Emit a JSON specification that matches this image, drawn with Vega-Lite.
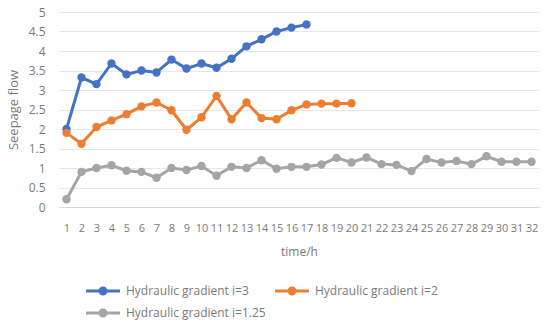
{
  "$schema": "https://vega.github.io/schema/vega-lite/v6.json",
  "width": 480,
  "height": 195,
  "padding": {"left": 7, "top": 6, "right": 5, "bottom": 4},
  "background": "white",
  "config": {
    "view": {"stroke": null},
    "font": "Open Sans"
  },
  "data": {
    "values": [
      {"s": "Hydraulic gradient i=3", "t": 1, "v": 2.0},
      {"s": "Hydraulic gradient i=3", "t": 2, "v": 3.32},
      {"s": "Hydraulic gradient i=3", "t": 3, "v": 3.15},
      {"s": "Hydraulic gradient i=3", "t": 4, "v": 3.68},
      {"s": "Hydraulic gradient i=3", "t": 5, "v": 3.4},
      {"s": "Hydraulic gradient i=3", "t": 6, "v": 3.5},
      {"s": "Hydraulic gradient i=3", "t": 7, "v": 3.45},
      {"s": "Hydraulic gradient i=3", "t": 8, "v": 3.78},
      {"s": "Hydraulic gradient i=3", "t": 9, "v": 3.55},
      {"s": "Hydraulic gradient i=3", "t": 10, "v": 3.68},
      {"s": "Hydraulic gradient i=3", "t": 11, "v": 3.57},
      {"s": "Hydraulic gradient i=3", "t": 12, "v": 3.8},
      {"s": "Hydraulic gradient i=3", "t": 13, "v": 4.12},
      {"s": "Hydraulic gradient i=3", "t": 14, "v": 4.3},
      {"s": "Hydraulic gradient i=3", "t": 15, "v": 4.5},
      {"s": "Hydraulic gradient i=3", "t": 16, "v": 4.6},
      {"s": "Hydraulic gradient i=3", "t": 17, "v": 4.68},
      {"s": "Hydraulic gradient i=2", "t": 1, "v": 1.9},
      {"s": "Hydraulic gradient i=2", "t": 2, "v": 1.62},
      {"s": "Hydraulic gradient i=2", "t": 3, "v": 2.05},
      {"s": "Hydraulic gradient i=2", "t": 4, "v": 2.22},
      {"s": "Hydraulic gradient i=2", "t": 5, "v": 2.38},
      {"s": "Hydraulic gradient i=2", "t": 6, "v": 2.58},
      {"s": "Hydraulic gradient i=2", "t": 7, "v": 2.68},
      {"s": "Hydraulic gradient i=2", "t": 8, "v": 2.48},
      {"s": "Hydraulic gradient i=2", "t": 9, "v": 1.98},
      {"s": "Hydraulic gradient i=2", "t": 10, "v": 2.3},
      {"s": "Hydraulic gradient i=2", "t": 11, "v": 2.85},
      {"s": "Hydraulic gradient i=2", "t": 12, "v": 2.25},
      {"s": "Hydraulic gradient i=2", "t": 13, "v": 2.68},
      {"s": "Hydraulic gradient i=2", "t": 14, "v": 2.28},
      {"s": "Hydraulic gradient i=2", "t": 15, "v": 2.25},
      {"s": "Hydraulic gradient i=2", "t": 16, "v": 2.48},
      {"s": "Hydraulic gradient i=2", "t": 17, "v": 2.63},
      {"s": "Hydraulic gradient i=2", "t": 18, "v": 2.65},
      {"s": "Hydraulic gradient i=2", "t": 19, "v": 2.65},
      {"s": "Hydraulic gradient i=2", "t": 20, "v": 2.66},
      {"s": "Hydraulic gradient i=1.25", "t": 1, "v": 0.2},
      {"s": "Hydraulic gradient i=1.25", "t": 2, "v": 0.9},
      {"s": "Hydraulic gradient i=1.25", "t": 3, "v": 1.0},
      {"s": "Hydraulic gradient i=1.25", "t": 4, "v": 1.07},
      {"s": "Hydraulic gradient i=1.25", "t": 5, "v": 0.93},
      {"s": "Hydraulic gradient i=1.25", "t": 6, "v": 0.9},
      {"s": "Hydraulic gradient i=1.25", "t": 7, "v": 0.75},
      {"s": "Hydraulic gradient i=1.25", "t": 8, "v": 1.0},
      {"s": "Hydraulic gradient i=1.25", "t": 9, "v": 0.95},
      {"s": "Hydraulic gradient i=1.25", "t": 10, "v": 1.05},
      {"s": "Hydraulic gradient i=1.25", "t": 11, "v": 0.8},
      {"s": "Hydraulic gradient i=1.25", "t": 12, "v": 1.03},
      {"s": "Hydraulic gradient i=1.25", "t": 13, "v": 1.0},
      {"s": "Hydraulic gradient i=1.25", "t": 14, "v": 1.2},
      {"s": "Hydraulic gradient i=1.25", "t": 15, "v": 0.98},
      {"s": "Hydraulic gradient i=1.25", "t": 16, "v": 1.03},
      {"s": "Hydraulic gradient i=1.25", "t": 17, "v": 1.03},
      {"s": "Hydraulic gradient i=1.25", "t": 18, "v": 1.09},
      {"s": "Hydraulic gradient i=1.25", "t": 19, "v": 1.26},
      {"s": "Hydraulic gradient i=1.25", "t": 20, "v": 1.14},
      {"s": "Hydraulic gradient i=1.25", "t": 21, "v": 1.27},
      {"s": "Hydraulic gradient i=1.25", "t": 22, "v": 1.1},
      {"s": "Hydraulic gradient i=1.25", "t": 23, "v": 1.08},
      {"s": "Hydraulic gradient i=1.25", "t": 24, "v": 0.92},
      {"s": "Hydraulic gradient i=1.25", "t": 25, "v": 1.23},
      {"s": "Hydraulic gradient i=1.25", "t": 26, "v": 1.14},
      {"s": "Hydraulic gradient i=1.25", "t": 27, "v": 1.18},
      {"s": "Hydraulic gradient i=1.25", "t": 28, "v": 1.1},
      {"s": "Hydraulic gradient i=1.25", "t": 29, "v": 1.3},
      {"s": "Hydraulic gradient i=1.25", "t": 30, "v": 1.16},
      {"s": "Hydraulic gradient i=1.25", "t": 31, "v": 1.16},
      {"s": "Hydraulic gradient i=1.25", "t": 32, "v": 1.16}
    ]
  },
  "encoding": {
    "x": {
      "field": "t",
      "type": "ordinal",
      "scale": {"domain": [1,2,3,4,5,6,7,8,9,10,11,12,13,14,15,16,17,18,19,20,21,22,23,24,25,26,27,28,29,30,31,32]},
      "axis": {
        "title": "time/h",
        "titleFontSize": 12,
        "titleFontWeight": "normal",
        "titleColor": "#7a7a7a",
        "titlePadding": 13,
        "labelAngle": 0,
        "labelFontSize": 11,
        "labelColor": "#7a7a7a",
        "labelOverlap": false,
        "labelPadding": 15,
        "ticks": false,
        "domainColor": "#d9d9d9",
        "grid": false
      }
    },
    "y": {
      "field": "v",
      "type": "quantitative",
      "scale": {"domain": [0, 5], "nice": false},
      "axis": {
        "title": "Seepage flow",
        "titleFontSize": 13,
        "titleFontWeight": "normal",
        "titleColor": "#7a7a7a",
        "titlePadding": 8,
        "values": [0, 0.5, 1, 1.5, 2, 2.5, 3, 3.5, 4, 4.5, 5],
        "format": "~g",
        "labelFontSize": 12,
        "labelColor": "#7a7a7a",
        "labelPadding": 14,
        "ticks": false,
        "domain": false,
        "gridColor": "#e6e6e6"
      }
    },
    "color": {
      "field": "s",
      "type": "nominal",
      "scale": {
        "domain": ["Hydraulic gradient i=3", "Hydraulic gradient i=2", "Hydraulic gradient i=1.25"],
        "range": ["#4472C4", "#ED7D31", "#A5A5A5"]
      },
      "legend": {
        "title": null,
        "orient": "none",
        "legendX": 38,
        "legendY": 273,
        "direction": "horizontal",
        "columns": 2,
        "columnPadding": 9,
        "rowPadding": 10,
        "labelFontSize": 12,
        "labelColor": "#7a7a7a",
        "labelLimit": 400,
        "symbolType": "M-3.4,-0.3H3.4V0.3H-3.4Z M-0.9,0A0.9,0.9 0 1,1 0.9,0A0.9,0.9 0 1,1 -0.9,0Z",
        "symbolSize": 100,
        "symbolStrokeWidth": 0,
        "labelOffset": 17,
        "encode": {"symbols": {"update": {"fill": {"scale": "color", "field": "value"}, "fillOpacity": {"value": 1}}}}
      }
    }
  },
  "layer": [
    {"mark": {"type": "line", "strokeWidth": 3}},
    {"mark": {"type": "point", "filled": true, "size": 70, "opacity": 1}}
  ]
}
